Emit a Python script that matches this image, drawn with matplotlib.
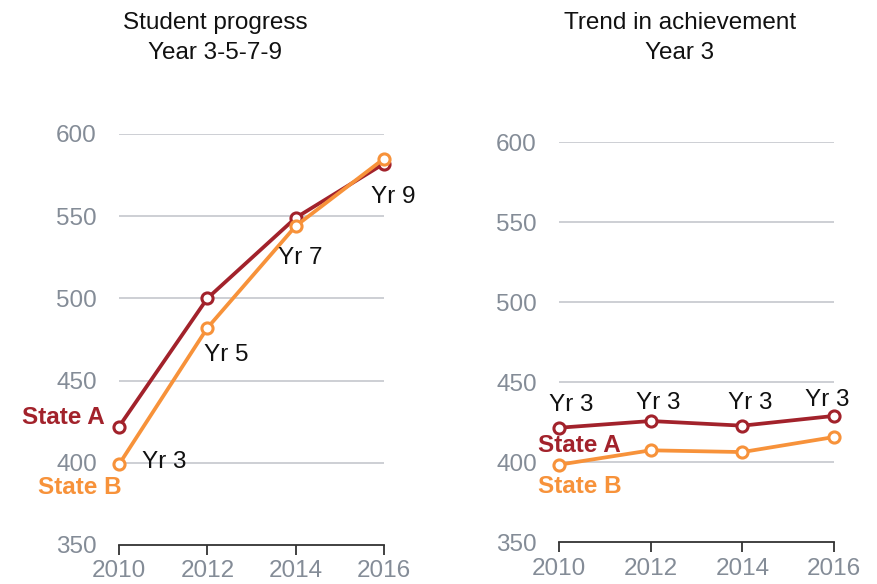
import matplotlib
matplotlib.use("Agg")
import matplotlib.pyplot as plt

plt.rcParams["font.family"] = ["Liberation Sans", "DejaVu Sans"]

years = [2010, 2012, 2014, 2016]

progress_a = [422, 500, 549, 582]
progress_b = [399, 482, 544, 585]
progress_labels = ["Yr 3", "Yr 5", "Yr 7", "Yr 9"]

trend_a = [421.6, 425.8, 422.9, 429]
trend_b = [398.5, 407.5, 406.4, 415.8]
trend_labels = ["Yr 3", "Yr 3", "Yr 3", "Yr 3"]

y_ticks = [350, 400, 450, 500, 550, 600]

COLOR_A = "#a2222b"
COLOR_B = "#f7923a"
TICK_GRAY = "#848c97"
GRID_GRAY = "#c9cbd1"
FS = 17.5


def style_axes(ax, top):
    ax.set_xlim(2010, 2016)
    ax.set_ylim(350, top)
    ax.set_xticks(years)
    ax.set_yticks(y_ticks)
    for spine in ("top", "right", "left"):
        ax.spines[spine].set_visible(False)
    ax.spines["bottom"].set_color("#333333")
    ax.spines["bottom"].set_linewidth(1.3)
    ax.tick_params(axis="x", length=7, width=1.3, color="#333333",
                   labelsize=FS, labelcolor=TICK_GRAY, pad=4)
    ax.tick_params(axis="y", length=0, labelsize=FS, labelcolor=TICK_GRAY, pad=16)
    for t in y_ticks[1:]:
        ax.axhline(t, color=GRID_GRAY, linewidth=1.3, zorder=0)


def draw_series(ax, values, color):
    ax.plot(years, values, color=color, linewidth=2.7, marker="o",
            markersize=8, markerfacecolor="white", markeredgecolor=color,
            markeredgewidth=2.2, zorder=3, clip_on=False)


fig = plt.figure(figsize=(8.77, 5.84), dpi=100)
ax1 = fig.add_axes([0.1357, 0.0668, 0.3022, 0.7038])
ax2 = fig.add_axes([0.6374, 0.0714, 0.3136, 0.6849])

# left panel
style_axes(ax1, 600)
draw_series(ax1, progress_a, COLOR_A)
draw_series(ax1, progress_b, COLOR_B)
label_pos_left = [(2010.52, 400.5, "left"), (2012.42, 465.6, "center"),
                  (2014.10, 524.6, "center"), (2016.2, 561.7, "center")]
for (x, y, ha), text in zip(label_pos_left, progress_labels):
    ax1.text(x, y, text, fontsize=FS, ha=ha, va="center", color="#111111")
ax1.text(2009.68, 427.3, "State A", fontsize=FS, fontweight="bold",
         color=COLOR_A, ha="right", va="center", clip_on=False)
ax1.text(2009.12, 384.7, "State B", fontsize=FS, fontweight="bold",
         color=COLOR_B, ha="center", va="center", clip_on=False)

# right panel
style_axes(ax2, 600)
draw_series(ax2, trend_a, COLOR_A)
draw_series(ax2, trend_b, COLOR_B)
label_pos_right = [(2010.26, 435.8), (2012.16, 437), (2014.17, 437), (2015.85, 439)]
for (x, y), text in zip(label_pos_right, trend_labels):
    ax2.text(x, y, text, fontsize=FS, ha="center", va="center", color="#111111")
ax2.text(2010.44, 410.8, "State A", fontsize=FS, fontweight="bold",
         color=COLOR_A, ha="center", va="center")
ax2.text(2010.46, 385, "State B", fontsize=FS, fontweight="bold",
         color=COLOR_B, ha="center", va="center")

fig.text(215 / 877, 1 - 38 / 584, "Student progress\nYear 3-5-7-9",
         fontsize=FS, ha="center", va="center", linespacing=1.45, color="#111111")
fig.text(680 / 877, 1 - 38 / 584, "Trend in achievement\nYear 3",
         fontsize=FS, ha="center", va="center", linespacing=1.45, color="#111111")

fig.savefig("out.png", dpi=100)
